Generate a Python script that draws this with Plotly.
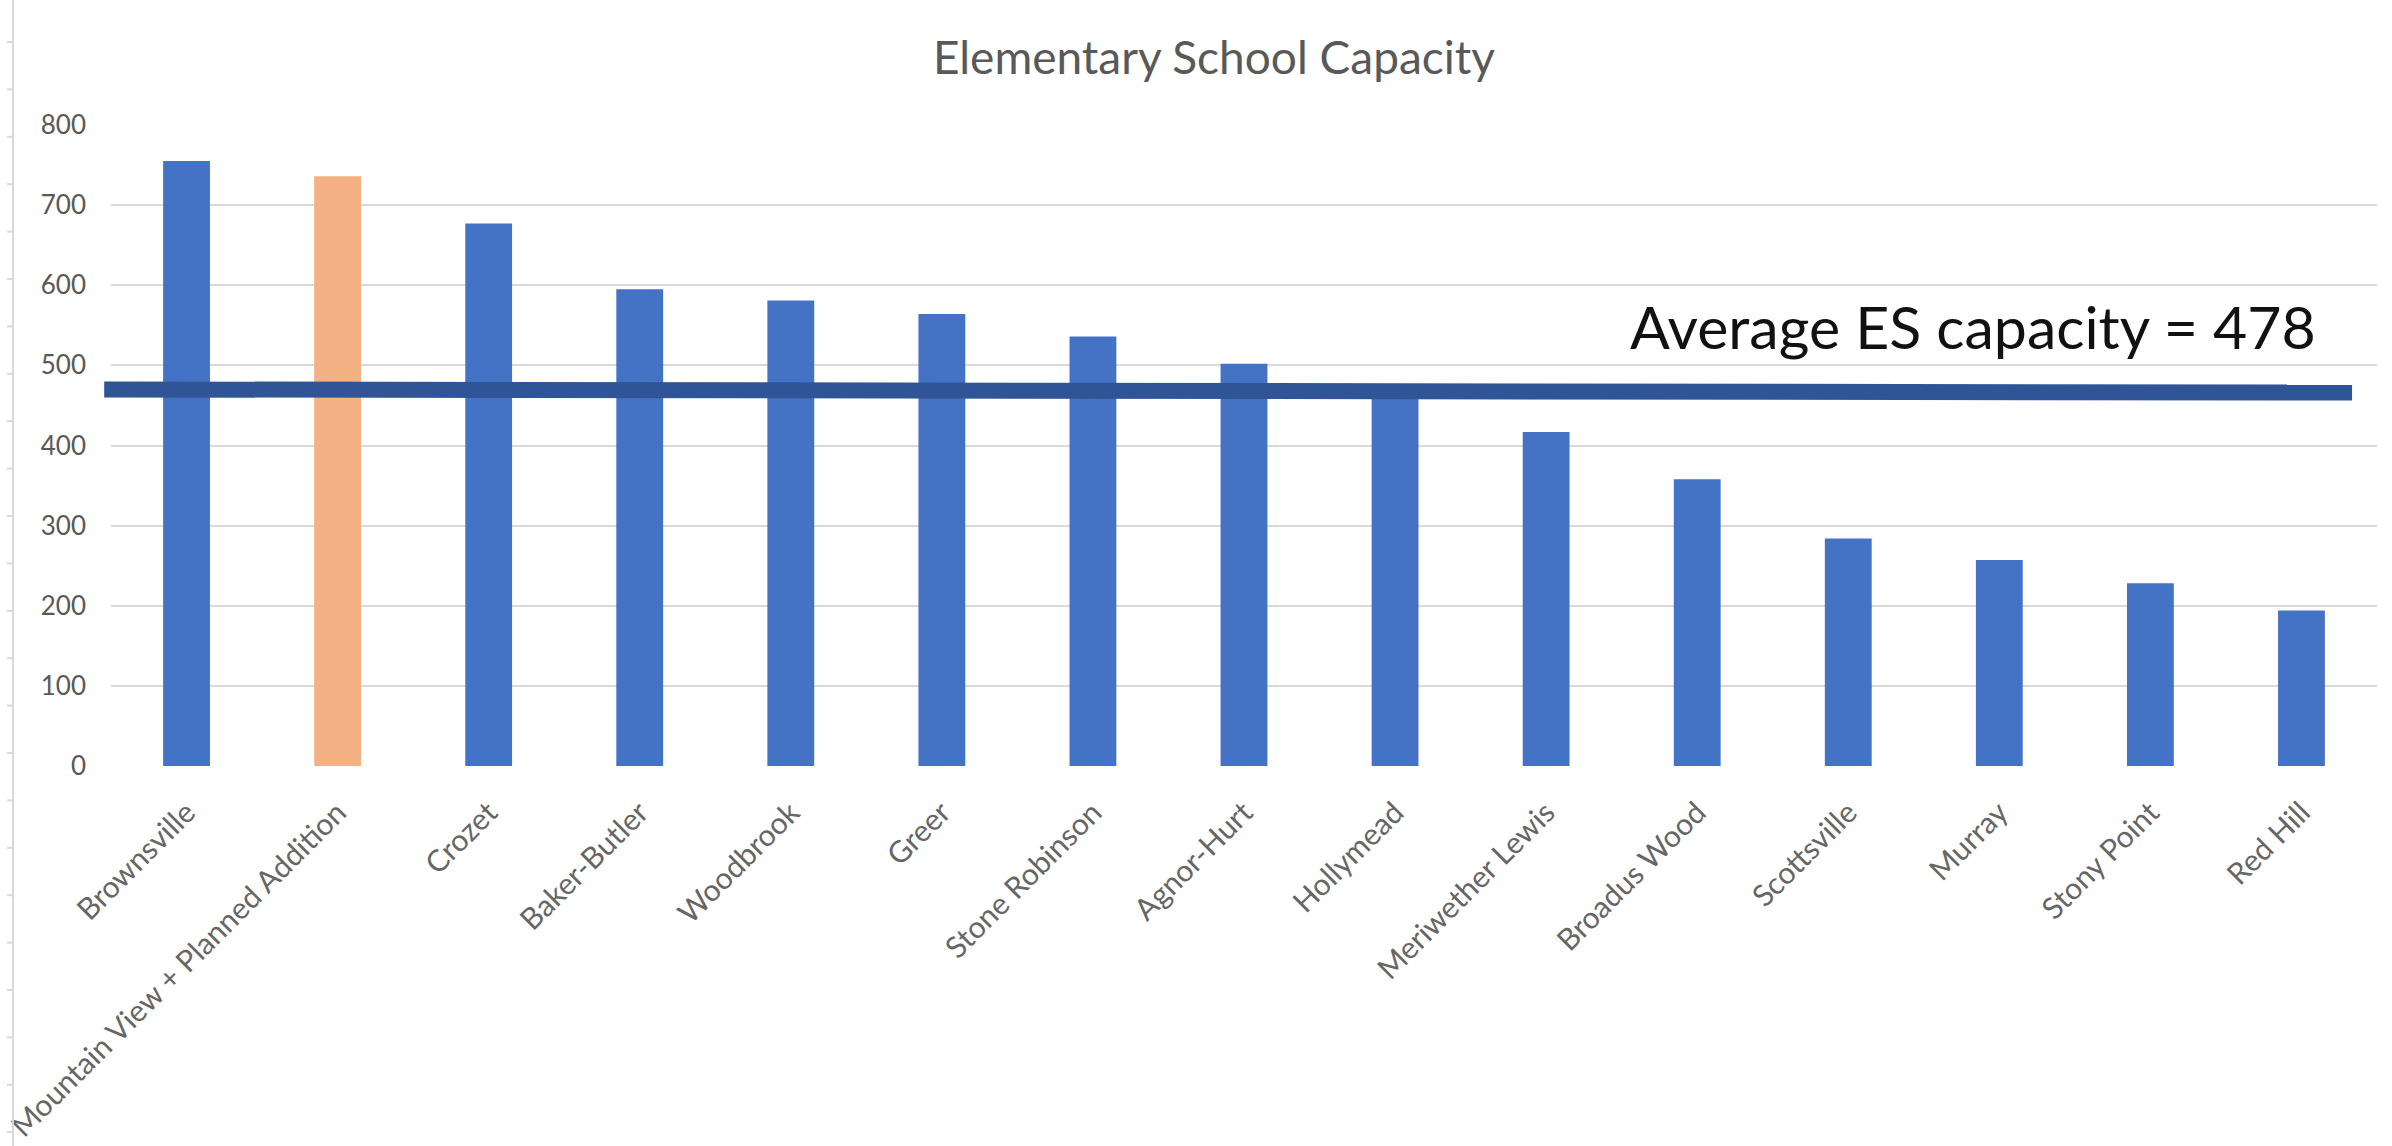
import plotly.graph_objects as go

# ---- data ----
schools = ["Brownsville", "Mountain View + Planned Addition", "Crozet", "Baker-Butler",
           "Woodbrook", "Greer", "Stone Robinson", "Agnor-Hurt", "Hollymead",
           "Meriwether Lewis", "Broadus Wood", "Scottsville", "Murray", "Stony Point", "Red Hill"]
capacity = [755, 736, 677, 595, 581, 564, 536, 502, 474, 417, 358, 284, 257, 228, 194]
bar_colors = ["#4472C4", "#F4B183"] + ["#4472C4"] * 13
y_ticks = [0, 100, 200, 300, 400, 500, 600, 700, 800]
average_label_value = 478
average_line_level = [470, 466]   # drawn level of the hand-placed line (left, right)

W, H = 2392, 1146
ML, MR, MT, MB = 111, 15, 125, 380
GREY = "#595959"
FONT = "Lato, 'Open Sans', sans-serif"

fig = go.Figure()
fig.add_trace(go.Bar(
    x=schools, y=capacity,
    marker=dict(color=bar_colors, line=dict(width=0)),
    hoverinfo="x+y",
))

fig.update_layout(
    width=W, height=H,
    margin=dict(l=ML, r=MR, t=MT, b=MB, autoexpand=False),
    paper_bgcolor="white", plot_bgcolor="white",
    showlegend=False,
    bargap=0.69,
    font=dict(family=FONT, color=GREY),
    title=dict(text="Elementary School Capacity", x=0.5075, xanchor="center",
               y=1 - 58 / H, yanchor="middle", yref="container",
               font=dict(size=46, color=GREY, family=FONT)),
)
fig.update_xaxes(
    tickangle=-45, tickfont=dict(size=30, color="#666666", family=FONT),
    showgrid=False, showline=False, ticks="", ticklabelstandoff=22,
)
fig.update_yaxes(
    range=[0, 800], tickvals=y_ticks, ticktext=[str(v) for v in y_ticks],
    tickfont=dict(size=26, color=GREY, family=FONT),
    showgrid=True, gridcolor="#D9D9D9", gridwidth=2,
    zeroline=False, showline=False, ticks="", ticklabelstandoff=24,
)

# average line (thick hand-drawn bar across the chart)
fig.add_shape(type="line", xref="paper", yref="y",
              x0=-0.003, x1=0.989, y0=average_line_level[0], y1=average_line_level[1],
              line=dict(color="#2F5597", width=16), layer="above")

fig.add_annotation(text=f"Average ES capacity = {average_label_value}",
                   xref="paper", yref="y", x=0.6695, y=549, xanchor="left", yanchor="middle",
                   showarrow=False, font=dict(size=59, color="#111111", family=FONT))

# left edge frame artefact (thin vertical rule with small ticks), in pixel -> paper units
pw, ph = W - ML - MR, H - MT - MB
def px(xp):
    return (xp - ML) / pw
def py(yp):
    return (H - MB - yp) / ph
fig.add_shape(type="line", xref="paper", yref="paper",
              x0=px(13), x1=px(13), y0=py(H), y1=py(0),
              line=dict(color="#D9D9D9", width=2))
for k in range(24):
    yy = 42 + 47.4 * k
    if yy < H:
        fig.add_shape(type="line", xref="paper", yref="paper",
                      x0=px(7), x1=px(13), y0=py(yy), y1=py(yy),
                      line=dict(color="#D9D9D9", width=2))

fig.write_html("out.html", config={"displayModeBar": False},
               post_script="document.body.style.margin='0';document.body.style.overflow='hidden';")
